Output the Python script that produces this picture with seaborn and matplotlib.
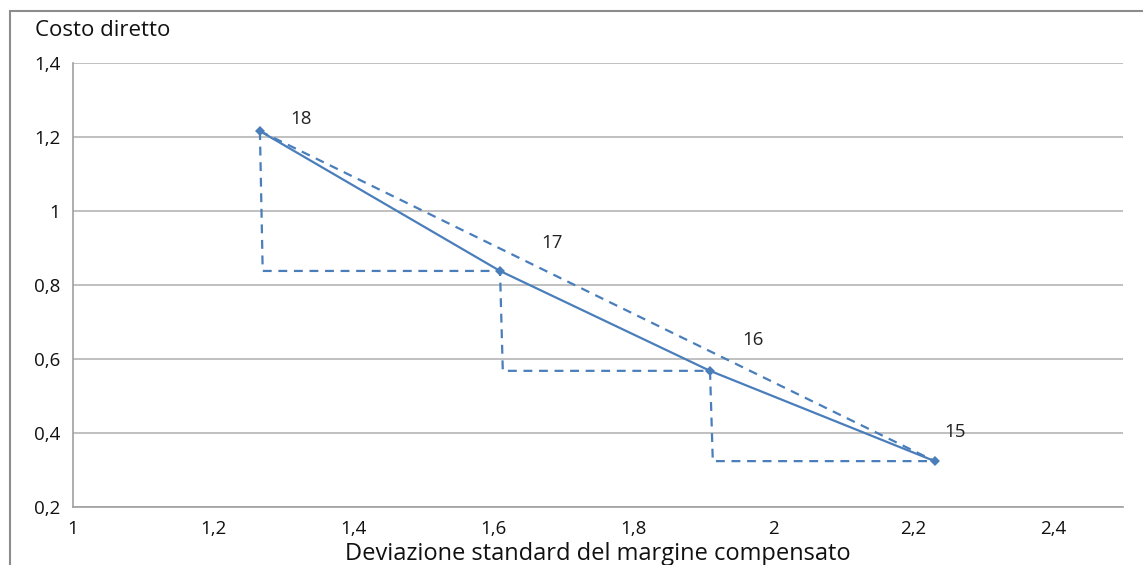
import matplotlib
matplotlib.use("Agg")
import matplotlib.pyplot as plt
import seaborn as sns
import pandas as pd
from matplotlib.patches import Rectangle
from matplotlib.ticker import FuncFormatter

# Data
labels = ["18", "17", "16", "15"]
dev_std = [1.267, 1.61, 1.91, 2.231]
costo = [1.216, 0.838, 0.568, 0.324]

step_x = [1.267, 1.271, 1.61, 1.614, 1.91, 1.914, 2.231]
step_y = [1.216, 0.838, 0.838, 0.568, 0.568, 0.324, 0.324]

chord_x = [1.267, 2.231]
chord_y = [1.216, 0.324]

# label offsets in points (style)
label_offsets = [(22, 9), (30, 20), (23, 22), (7, 21)]

sns.set_theme(style="white")
plt.rcParams['font.family'] = ['Open Sans', 'DejaVu Sans']

blue = "#4a7ebb"
fig = plt.figure(figsize=(11.43, 5.65), dpi=100)
ax = fig.add_axes([73/1143, 1-507/565, (1123-73)/1143, (507-63)/565])

df_main = pd.DataFrame({"x": dev_std, "y": costo})
df_step = pd.DataFrame({"x": step_x, "y": step_y})
df_chord = pd.DataFrame({"x": chord_x, "y": chord_y})

sns.lineplot(data=df_step, x="x", y="y", sort=False, ax=ax, color=blue,
             linestyle=(0, (4, 3)), linewidth=1.6, zorder=3)
sns.lineplot(data=df_chord, x="x", y="y", sort=False, ax=ax, color=blue,
             linestyle=(0, (4, 3)), linewidth=1.6, zorder=3)
sns.lineplot(data=df_main, x="x", y="y", sort=False, ax=ax, color=blue,
             linewidth=1.6, marker="D", markersize=5, markeredgewidth=0, zorder=4)

for lx, ly, lt, off in zip(dev_std, costo, labels, label_offsets):
    ax.annotate(lt, (lx, ly), xytext=off, textcoords="offset points",
                fontsize=13.5, color="#222222", ha="left", va="center")

ax.set_xlim(1, 2.5)
ax.set_ylim(0.2, 1.4)
ax.set_xticks([1, 1.2, 1.4, 1.6, 1.8, 2, 2.2, 2.4])
ax.set_yticks([0.2, 0.4, 0.6, 0.8, 1.0, 1.2, 1.4])
fmt = FuncFormatter(lambda v, p: (f"{v:.1f}".rstrip("0").rstrip(".")).replace(".", ","))
ax.xaxis.set_major_formatter(fmt)
ax.yaxis.set_major_formatter(fmt)
ax.yaxis.grid(True, color="#b5b5b5", linewidth=1.2)
ax.xaxis.grid(False)
for s in ["top", "right"]:
    ax.spines[s].set_visible(False)
for s in ["left", "bottom"]:
    ax.spines[s].set_color("#a0a0a0")
    ax.spines[s].set_linewidth(1.2)
ax.tick_params(axis="both", which="both", length=5, width=1.2, color="#a0a0a0",
               labelsize=13.5, labelcolor="#111111", direction="out")
ax.tick_params(axis="x", pad=4)
ax.tick_params(axis="y", pad=4)
ax.set_xlabel("Deviazione standard del margine compensato", fontsize=17, color="#111111", labelpad=3)
ax.set_ylabel("")
fig.text(35/1143, 1-30/565, "Costo diretto", fontsize=16, color="#111111", ha="left", va="center")

fig.patches.append(Rectangle((10/1143, -0.05), 1.1, 1-11/565+0.05, transform=fig.transFigure,
                             fill=False, edgecolor="#8c8c8c", linewidth=1.5, zorder=0))

fig.savefig("out.png", dpi=100)
